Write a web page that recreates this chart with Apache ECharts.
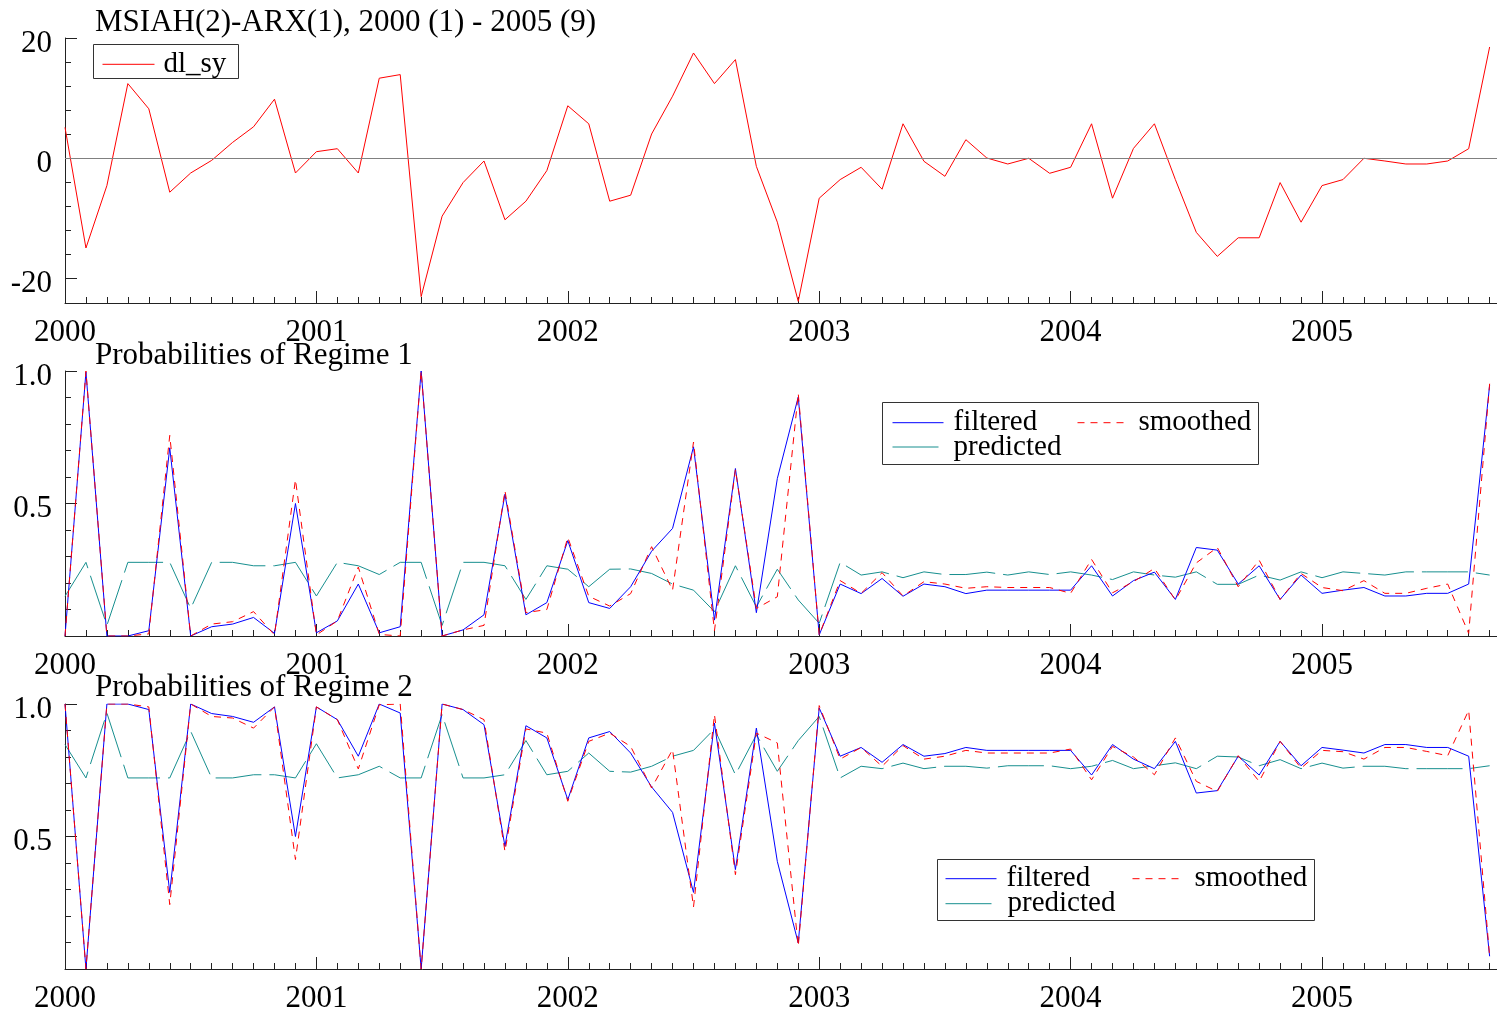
<!DOCTYPE html>
<html><head><meta charset="utf-8">
<script src="https://cdn.jsdelivr.net/npm/echarts@6/dist/echarts.min.js"></script>
<style>html,body{margin:0;padding:0;background:#fff}#c{width:1497px;height:1014px}</style>
</head><body><div id="c"></div>
<script>
const FONT = 'Liberation Serif';
const titles = ['MSIAH(2)-ARX(1), 2000 (1) - 2005 (9)', 'Probabilities of Regime 1', 'Probabilities of Regime 2'];
const yearTicks = [2000, 2001, 2002, 2003, 2004, 2005];
const yLabels1 = [-20, 0, 20];
const yMinor1 = [-20, -16, -12, -8, -4, 0, 4, 8, 12, 16, 20];
const yLabelsP = [0.5, 1.0];
const yMajorP = [0, 0.5, 1.0];
const yMinorP = [0.1, 0.2, 0.3, 0.4, 0.5, 0.6, 0.7, 0.8, 0.9, 1.0];

// monthly observations 2000(1) - 2005(9)
const dl_sy = [5.1, -15.0, -4.6, 12.4, 8.2, -5.7, -2.5, -0.4, 2.6, 5.2, 9.8, -2.5,
  1.05, 1.55, -2.5, 13.3, 13.9, -23.1, -9.7, -4.1, -0.5, -10.3, -7.2, -2.1,
  8.7, 5.7, -7.2, -6.2, 4.0, 10.3, 17.5, 12.4, 16.4, -1.4, -10.7, -23.9,
  -6.7, -3.6, -1.55, -5.2, 5.7, -0.55, -3.05, 3.05, 0.0, -1.0, -0.05, -2.55,
  -1.55, 5.7, -6.7, 1.6, 5.7, -3.6, -12.4, -16.4, -13.3, -13.3, -4.1, -10.7,
  -4.6, -3.6, -0.05, -0.5, -1.0, -1.0, -0.5, 1.55, 18.5];

const filt1 = [0.0, 0.996, 0.0, 0.0, 0.02, 0.71, 0.0, 0.035, 0.045, 0.07, 0.01, 0.50,
  0.012, 0.057, 0.196, 0.012, 0.035, 1.0, 0.0, 0.023, 0.08, 0.535, 0.08, 0.126,
  0.36, 0.126, 0.104, 0.186, 0.32, 0.406, 0.714, 0.06, 0.632, 0.088, 0.594, 0.902,
  0.004, 0.196, 0.16, 0.217, 0.15, 0.196, 0.186, 0.16, 0.173, 0.173, 0.173, 0.173,
  0.173, 0.265, 0.151, 0.209, 0.241, 0.138, 0.334, 0.324, 0.196, 0.265, 0.138, 0.23,
  0.161, 0.173, 0.183, 0.151, 0.151, 0.161, 0.161, 0.196, 0.946];
const smooth1 = [0.0, 1.0, 0.0, 0.0, 0.008, 0.757, 0.0, 0.045, 0.054, 0.092, 0.004, 0.59,
  0.004, 0.057, 0.26, 0.006, 0.0, 1.0, 0.0, 0.023, 0.04, 0.548, 0.088, 0.1,
  0.372, 0.15, 0.113, 0.16, 0.337, 0.173, 0.732, 0.02, 0.628, 0.104, 0.148, 0.915,
  0.004, 0.209, 0.161, 0.239, 0.151, 0.205, 0.196, 0.18, 0.186, 0.183, 0.183, 0.183,
  0.161, 0.289, 0.163, 0.205, 0.255, 0.136, 0.276, 0.334, 0.186, 0.286, 0.138, 0.236,
  0.183, 0.171, 0.209, 0.161, 0.161, 0.18, 0.196, 0.01, 0.952];
const pred1 = [0.15, 0.278, 0.04, 0.278, 0.278, 0.278, 0.104, 0.278, 0.278, 0.265, 0.265, 0.278,
  0.151, 0.278, 0.265, 0.232, 0.278, 0.278, 0.04, 0.278, 0.278, 0.265, 0.138, 0.265,
  0.252, 0.186, 0.252, 0.253, 0.236, 0.196, 0.173, 0.092, 0.265, 0.11, 0.252, 0.136,
  0.048, 0.278, 0.23, 0.242, 0.22, 0.242, 0.232, 0.232, 0.241, 0.23, 0.242, 0.232,
  0.242, 0.23, 0.213, 0.242, 0.23, 0.222, 0.242, 0.195, 0.195, 0.23, 0.211, 0.242,
  0.22, 0.242, 0.236, 0.23, 0.242, 0.242, 0.242, 0.242, 0.23];

const filt2 = [1.0, 0.0, 1.0, 1.0, 0.979, 0.289, 1.0, 0.964, 0.953, 0.931, 0.989, 0.50,
  0.989, 0.941, 0.803, 1.0, 0.966, 0.0, 1.0, 0.979, 0.922, 0.463, 0.918, 0.872,
  0.639, 0.872, 0.896, 0.815, 0.687, 0.591, 0.289, 0.928, 0.375, 0.909, 0.406, 0.098,
  0.985, 0.803, 0.836, 0.78, 0.847, 0.803, 0.813, 0.836, 0.825, 0.825, 0.825, 0.825,
  0.825, 0.732, 0.847, 0.792, 0.756, 0.859, 0.664, 0.673, 0.803, 0.732, 0.859, 0.767,
  0.836, 0.826, 0.815, 0.847, 0.847, 0.836, 0.836, 0.803, 0.048];
const smooth2 = [1.0, 0.0, 1.0, 1.0, 0.989, 0.243, 1.0, 0.953, 0.947, 0.909, 0.989, 0.413,
  0.989, 0.941, 0.755, 0.997, 1.0, 0.0, 1.0, 0.979, 0.941, 0.444, 0.906, 0.89,
  0.633, 0.859, 0.89, 0.84, 0.683, 0.828, 0.234, 0.96, 0.356, 0.89, 0.853, 0.086,
  0.994, 0.792, 0.836, 0.765, 0.843, 0.792, 0.803, 0.825, 0.815, 0.815, 0.815, 0.815,
  0.83, 0.714, 0.84, 0.8, 0.733, 0.872, 0.708, 0.67, 0.805, 0.708, 0.859, 0.758,
  0.825, 0.82, 0.792, 0.836, 0.836, 0.821, 0.805, 0.976, 0.048];
const pred2 = [0.847, 0.721, 0.966, 0.721, 0.721, 0.721, 0.897, 0.721, 0.721, 0.733, 0.733, 0.721,
  0.85, 0.721, 0.733, 0.765, 0.721, 0.721, 0.96, 0.721, 0.721, 0.733, 0.862, 0.733,
  0.746, 0.815, 0.746, 0.743, 0.765, 0.803, 0.825, 0.906, 0.733, 0.884, 0.746, 0.862,
  0.953, 0.721, 0.765, 0.756, 0.777, 0.756, 0.765, 0.765, 0.758, 0.767, 0.767, 0.767,
  0.756, 0.765, 0.787, 0.756, 0.767, 0.778, 0.756, 0.803, 0.8, 0.767, 0.79, 0.756,
  0.777, 0.758, 0.765, 0.765, 0.756, 0.756, 0.756, 0.756, 0.767];

// time positions (year + (month-1)/12)
const periods = [];
for (let y = 2000; y <= 2005; y++) for (let m = 1; m <= 12; m++) if (y < 2005 || m <= 9) periods.push([y, m]);
const tpos = periods.map(([y, m]) => y + (m - 1) / 12);
const pair = arr => arr.map((v, i) => [tpos[i], v]);

const RED = '#ff0000', BLUE = '#0000ff', TEAL = '#178f8f', AX = '#222';
const X_MIN = 2000, X_MAX = 2005.696;

const grids = [
  {left: 65, right: 0, top: 38, height: 265},
  {left: 65, right: 0, top: 371, height: 265},
  {left: 65, right: 0, top: 704, height: 265}
];

const xAxis = [], yAxis = [];
function addAxes(gi, yMin, yMax, minorVals, majorVals, labelVals, fmt) {
  xAxis.push({type: 'value', gridIndex: gi, position: 'bottom', min: X_MIN, max: X_MAX,
    axisLine: {show: true, onZero: false, lineStyle: {color: AX, width: 1}},
    axisTick: {show: true, inside: true, length: 6, customValues: tpos, lineStyle: {color: AX}},
    axisLabel: {show: false}, splitLine: {show: false}});
  xAxis.push({type: 'value', gridIndex: gi, position: 'bottom', min: X_MIN, max: X_MAX,
    axisLine: {show: false, onZero: false},
    axisTick: {show: true, inside: true, length: 12, customValues: yearTicks, lineStyle: {color: AX}},
    axisLabel: {show: true, customValues: yearTicks, margin: 14, formatter: v => String(Math.round(v)),
      fontFamily: FONT, fontSize: 31, color: '#000'},
    splitLine: {show: false}});
  yAxis.push({type: 'value', gridIndex: gi, position: 'left', min: yMin, max: yMax,
    axisLine: {show: true, onZero: false, lineStyle: {color: AX, width: 1}},
    axisTick: {show: true, inside: true, length: 6, customValues: minorVals, lineStyle: {color: AX}},
    axisLabel: {show: false}, splitLine: {show: false}});
  yAxis.push({type: 'value', gridIndex: gi, position: 'left', min: yMin, max: yMax,
    axisLine: {show: false, onZero: false},
    axisTick: {show: true, inside: true, length: 12, customValues: majorVals, lineStyle: {color: AX}},
    axisLabel: {show: true, customValues: labelVals, margin: 13, formatter: fmt,
      verticalAlign: 'top', lineHeight: 11,
      fontFamily: FONT, fontSize: 31, color: '#000'},
    splitLine: {show: false}});
}
addAxes(0, -24.17, 20, yMinor1, yLabels1, yLabels1, v => String(Math.round(v)));
addAxes(1, 0, 1, yMinorP, yMajorP, yLabelsP, v => v.toFixed(1));
addAxes(2, 0, 1, yMinorP, yMajorP, yLabelsP, v => v.toFixed(1));

function line(name, data, gi, color, type) {
  return {name, type: 'line', data: pair(data), xAxisIndex: gi * 2, yAxisIndex: gi * 2,
    symbol: 'none', showSymbol: false, clip: true, z: 2,
    lineStyle: {color, width: 1, type: type || 'solid'}, itemStyle: {color}};
}

const series = [];
const s0 = line('dl_sy', dl_sy, 0, RED);
s0.markLine = {silent: true, symbol: ['none', 'none'], label: {show: false}, animation: false,
  lineStyle: {color: '#808080', type: 'solid', width: 1}, data: [{yAxis: 0}]};
series.push(s0);
series.push(line('predicted', pred1, 1, TEAL, [46, 8]));
series.push(line('filtered', filt1, 1, BLUE));
series.push(line('smoothed', smooth1, 1, RED, [7, 6]));
series.push(line('predicted', pred2, 2, TEAL, [46, 8]));
series.push(line('filtered', filt2, 2, BLUE));
series.push(line('smoothed', smooth2, 2, RED, [7, 6]));

// one legend entry per component so each sits exactly where the reference has it
function legItem(name, left, centerY, iw, gap) {
  return {data: [name], left, top: centerY - 15, orient: 'horizontal', padding: 0, z: 4,
    itemWidth: iw, itemHeight: 30, selectedMode: false,
    itemStyle: {opacity: 0}, lineStyle: {width: 1},
    textStyle: {fontFamily: FONT, fontSize: 29, color: '#000', lineHeight: 30, padding: [4, 0, 0, gap]}};
}
const legend = [
  legItem('dl_sy', 102, 62.3, 52, 4),
  legItem('filtered', 892, 420.7, 51, 5),
  legItem('smoothed', 1077, 420.7, 51, 5),
  legItem('predicted', 892, 445, 46, 10),
  legItem('filtered', 945, 876.7, 51, 5),
  legItem('smoothed', 1132, 876.7, 52, 5),
  legItem('predicted', 945, 901.7, 46, 11)
];

const boxes = [[93, 44, 145, 34], [882, 402, 376, 62], [937, 859, 377, 61]];
const graphic = boxes.map(b => ({type: 'rect', z: 3, silent: true,
  shape: {x: b[0] + 0.5, y: b[1] + 0.5, width: b[2], height: b[3]},
  style: {fill: '#fff', stroke: '#333', lineWidth: 1}}));

const titleTops = [7, 340, 672];
const title = titles.map((t, i) => ({text: t, left: 95, top: titleTops[i], padding: 0,
  textStyle: {fontFamily: FONT, fontSize: 31, fontWeight: 'normal', color: '#000'}}));

const chart = echarts.init(document.getElementById('c'), null, {renderer: 'canvas'});
chart.setOption({animation: false, backgroundColor: '#fff', title, legend, graphic, grid: grids, xAxis, yAxis, series});
</script></body></html>
